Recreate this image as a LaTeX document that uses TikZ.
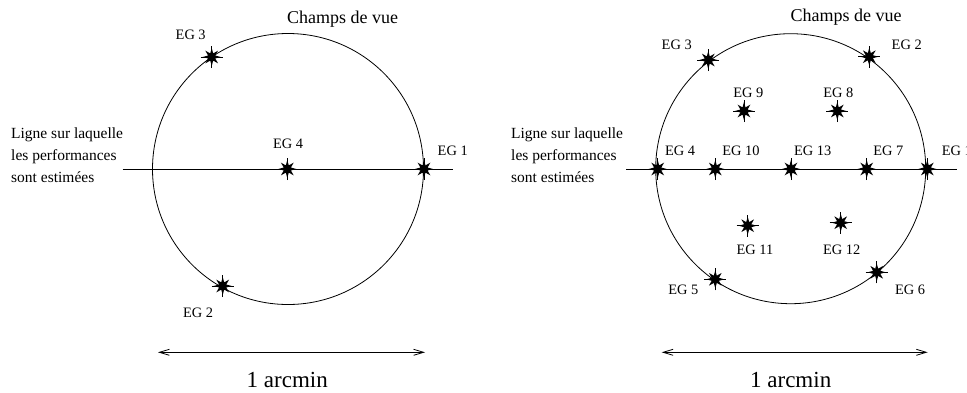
\documentclass[tikz,border=0pt]{standalone}
\usepackage{fontspec}
\setmainfont{Liberation Serif}
\usetikzlibrary{shapes.geometric,arrows.meta}
\tikzset{
  egstar/.style={star, star points=8, star point ratio=2.3, minimum size=18pt, inner sep=0pt, fill=black, draw=none},
  eglbl/.style={font=\fontsize{14.4}{16}\selectfont, inner sep=0pt},
  fov/.style={draw, circle, line width=0.8pt, inner sep=0pt, minimum size=271pt},
  titlelbl/.style={font=\fontsize{18}{20}\selectfont, inner sep=0pt},
  sidelbl/.style={font=\fontsize{15.5}{22}\selectfont, inner sep=0pt, align=left, anchor=west},
  scalelbl/.style={font=\fontsize{23}{26}\selectfont, inner sep=0pt},
  perfline/.style={line width=0.8pt},
  crossln/.style={line width=0.6pt},
  scalearrow/.style={line width=0.8pt, {Straight Barb[length=10pt,width=6pt]}-{Straight Barb[length=10pt,width=6pt]}}
}
\newcommand{\egpoint}[3]{%
  \node[egstar] (#1) at (#2,#3) {};
  \draw[crossln] ([xshift=-11pt]#1.center) -- ([xshift=11pt]#1.center);
  \draw[crossln] ([yshift=-11pt]#1.center) -- ([yshift=11pt]#1.center);
}
\begin{document}
\begin{tikzpicture}[x=1pt,y=-1pt]
\useasboundingbox (0,0) rectangle (967,392);
% ---------------- left panel ----------------
\node[fov] (fovL) at (288,169) {};
\coordinate (lineLa) at (122.7,169);
\coordinate (lineLb) at (452.7,169);
\draw[perfline] (lineLa) -- (lineLb);
\node[titlelbl] (champL) at (342.7,19.3) {Champs de vue};
\node[sidelbl] (ligneL) at (11,155) {Ligne sur laquelle\\les performances\\sont estimées};
\egpoint{Lg4}{287.3}{169}
\egpoint{Lg1}{424}{169}
\egpoint{Lg3}{211.7}{57}
\egpoint{Lg2}{222.7}{286}
\node[eglbl] (Ll4) at (288,143.3) {EG 4};
\node[eglbl] (Ll1) at (452.7,150.7) {EG 1};
\node[eglbl] (Ll3) at (190.7,35) {EG 3};
\node[eglbl] (Ll2) at (198,312.3) {EG 2};
\coordinate (arLa) at (158,352.3);
\coordinate (arLb) at (425,352.3);
\draw[scalearrow] (arLa) -- (arLb);
\node[scalelbl] (arcL) at (287.3,380) {1 arcmin};
% ---------------- right panel ----------------
\node[fov, minimum size=270pt] (fovR) at (790.7,168.7) {};
\coordinate (lineRa) at (626,169);
\coordinate (lineRb) at (956.7,169);
\draw[perfline] (lineRa) -- (lineRb);
\node[titlelbl] (champR) at (846,16.7) {Champs de vue};
\node[sidelbl] (ligneR) at (511,155) {Ligne sur laquelle\\les performances\\sont estimées};
\egpoint{Rg3}{708.3}{60}
\egpoint{Rg2}{869.3}{56.7}
\egpoint{Rg9}{744}{111}
\egpoint{Rg8}{837.3}{111}
\egpoint{Rg4}{657.7}{169}
\egpoint{Rg10}{715.3}{169}
\egpoint{Rg13}{791}{169}
\egpoint{Rg7}{866.7}{169}
\egpoint{Rg1}{927.3}{169}
\egpoint{Rg11}{747.7}{225.7}
\egpoint{Rg12}{840.7}{222.7}
\egpoint{Rg5}{715.3}{279.3}
\egpoint{Rg6}{876.7}{272.3}
\node[eglbl] (Rl3) at (676.7,45) {EG 3};
\node[eglbl] (Rl2) at (906.7,45) {EG 2};
\node[eglbl] (Rl9) at (748.3,92.3) {EG 9};
\node[eglbl] (Rl8) at (838.3,92.3) {EG 8};
\node[eglbl] (Rl4) at (680,150.7) {EG 4};
\node[eglbl] (Rl10) at (741,150.7) {EG 10};
\node[eglbl] (Rl13) at (812.7,150.7) {EG 13};
\node[eglbl] (Rl7) at (888.3,150.7) {EG 7};
\node[eglbl, anchor=west] (Rl1) at (941.7,150.7) {EG 1};
\node[eglbl] (Rl11) at (755,250) {EG 11};
\node[eglbl] (Rl12) at (841.7,250) {EG 12};
\node[eglbl] (Rl5) at (683.3,290) {EG 5};
\node[eglbl] (Rl6) at (910,290) {EG 6};
\coordinate (arRa) at (661.7,352.3);
\coordinate (arRb) at (927.7,352.3);
\draw[scalearrow] (arRa) -- (arRb);
\node[scalelbl] (arcR) at (790.7,380) {1 arcmin};
\end{tikzpicture}
\end{document}
